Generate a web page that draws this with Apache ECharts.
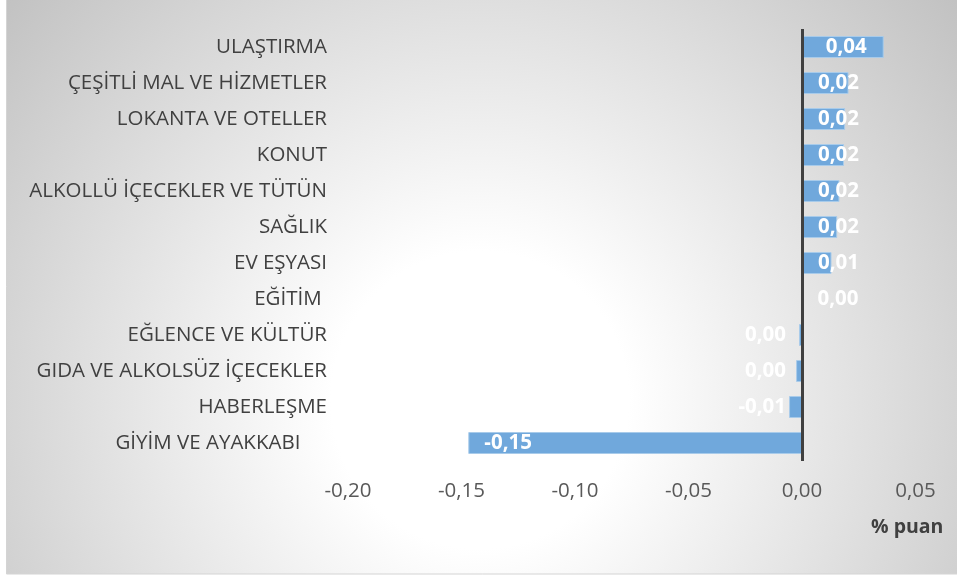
<!DOCTYPE html>
<html>
<head>
<meta charset="utf-8">
<script src="https://cdn.jsdelivr.net/npm/echarts@6/dist/echarts.min.js"></script>
<style>
html,body{margin:0;padding:0;background:#fff;}
#chart{width:957px;height:578px;}
</style>
</head>
<body>
<div id="chart"></div>
<script>
const categories = [
  "ULAŞTIRMA",
  "ÇEŞİTLİ MAL VE HİZMETLER",
  "LOKANTA VE OTELLER",
  "KONUT",
  "ALKOLLÜ İÇECEKLER VE TÜTÜN",
  "SAĞLIK",
  "EV EŞYASI",
  "EĞİTİM ",
  "EĞLENCE VE KÜLTÜR",
  "GIDA VE ALKOLSÜZ İÇECEKLER",
  "HABERLEŞME",
  "GİYİM VE AYAKKABI     "
];
const values = [0.036, 0.0205, 0.019, 0.0185, 0.0165, 0.0155, 0.013, 0.000, -0.0013, -0.0026, -0.0057, -0.147];
const xTickMin = -0.20;
const xTickMax = 0.05;
const xTickStep = 0.05;
const axisName = "% puan";

function fmt(v) {
  let s = v.toFixed(2);
  if (parseFloat(s) === 0) s = "0.00";
  return s.replace('.', ',');
}

const FONT = "'Open Sans', sans-serif";
const FS = 20.5;

const seriesData = values.map(function (v) {
  let pos, dist = 16;
  if (v >= 0.03) { pos = 'insideRight'; dist = 17; }
  else if (v <= -0.03) { pos = 'insideLeft'; }
  else if (v >= 0) { pos = 'insideLeft'; }
  else { pos = 'insideRight'; }
  return { value: v, label: { position: pos, distance: dist } };
});

const chart = echarts.init(document.getElementById('chart'), null, { renderer: 'canvas' });
chart.setOption({
  backgroundColor: '#ffffff',
  animation: false,
  graphic: [{
    type: 'rect',
    z: -10,
    silent: true,
    shape: { x: 6.5, y: -2, width: 960, height: 576 },
    style: {
      stroke: '#d4d4d4',
      lineWidth: 1,
      fill: new echarts.graphic.RadialGradient(480, 400, 620, [
        { offset: 0, color: '#ffffff' },
        { offset: 0.24, color: '#ffffff' },
        { offset: 1, color: '#c2c2c2' }
      ], true)
    }
  }, {
    type: 'text',
    left: 871,
    top: 517,
    style: {
      text: axisName,
      font: "bold 19.5px 'Open Sans', sans-serif",
      fill: '#404040'
    }
  }],
  grid: { left: 348, right: 41.5, top: 29, bottom: 117, containLabel: false },
  xAxis: {
    type: 'value',
    min: xTickMin,
    max: xTickMax,
    interval: xTickStep,
    axisLine: { show: false },
    axisTick: { show: false },
    splitLine: { show: false },
    axisLabel: {
      margin: 20,
      color: '#595959',
      fontFamily: FONT,
      fontSize: FS,
      formatter: function (v) { return fmt(v); }
    }
  },
  yAxis: {
    type: 'category',
    inverse: true,
    data: categories,
    axisLine: { show: false },
    axisTick: { show: false },
    splitLine: { show: false },
    axisLabel: {
      margin: 21,
      color: '#404040',
      fontFamily: FONT,
      fontSize: FS
    }
  },
  series: [{
    type: 'bar',
    data: seriesData,
    barWidth: 22,
    itemStyle: { color: '#70a8dc', borderColor: '#a8cbea', borderWidth: 1 },
    label: {
      show: true,
      color: '#ffffff',
      fontFamily: FONT,
      fontWeight: 'bold',
      fontSize: FS,
      formatter: function (p) { return fmt(p.value); }
    },
    markLine: {
      silent: true,
      symbol: 'none',
      label: { show: false },
      lineStyle: { color: '#404040', width: 3, type: 'solid' },
      data: [{ xAxis: 0 }]
    }
  }]
});
</script>
</body>
</html>
